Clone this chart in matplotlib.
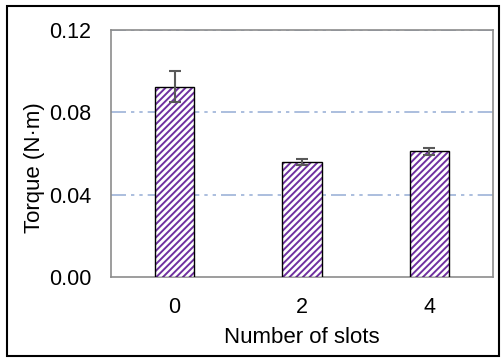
import matplotlib
matplotlib.use('Agg')
import matplotlib.pyplot as plt
from matplotlib.patches import Rectangle
import numpy as np

plt.rcParams['font.family'] = ['Liberation Sans', 'DejaVu Sans']
plt.rcParams['hatch.linewidth'] = 1.4

slots = ['0', '2', '4']
torque = [0.0925, 0.0558, 0.0612]
torque_err = [0.0075, 0.0014, 0.0017]
yticks = [0.00, 0.04, 0.08, 0.12]

fig = plt.figure(figsize=(5.04, 3.58), dpi=100)
ax = fig.add_axes([0.220, 0.226, 0.758, 0.690])

x = np.arange(len(slots))
# hatch in purple, outline in black
ax.bar(x, torque, width=0.31, color='white', edgecolor='#7030A0',
       hatch='/////', linewidth=0, zorder=3)
ax.bar(x, torque, width=0.31, fill=False, edgecolor='black',
       linewidth=1.0, zorder=4)
ax.errorbar(x, torque, yerr=torque_err, fmt='none', ecolor='#595959',
            elinewidth=1.5, capsize=4, capthick=1.5, zorder=5)

ax.set_xlim(-0.5, 2.5)
ax.set_ylim(0, 0.12)
ax.set_yticks(yticks)
ax.set_yticklabels(['%.2f' % v for v in yticks])
ax.set_xticks(x)
ax.set_xticklabels(slots)
for v in yticks[1:]:
    ax.axhline(v, color='#9DB3D8', linewidth=1.2,
               dashes=(9, 3, 2, 3, 2, 3), zorder=1)

for s in ax.spines.values():
    s.set_color('#8C8C8C')
    s.set_linewidth(1.2)
ax.tick_params(length=0, labelsize=15.5)
ax.tick_params(axis='x', pad=14)
ax.tick_params(axis='y', pad=14)
ax.set_xlabel('Number of slots', fontsize=16, labelpad=7)
ax.set_ylabel('Torque (N·m)', fontsize=16)
ax.yaxis.set_label_coords(-0.172, 0.445)

fig.patches.append(Rectangle((0.014, 0.006), 0.976, 0.978, transform=fig.transFigure,
                             fill=False, edgecolor='black', linewidth=1.5))

fig.savefig('out.png', dpi=100)
